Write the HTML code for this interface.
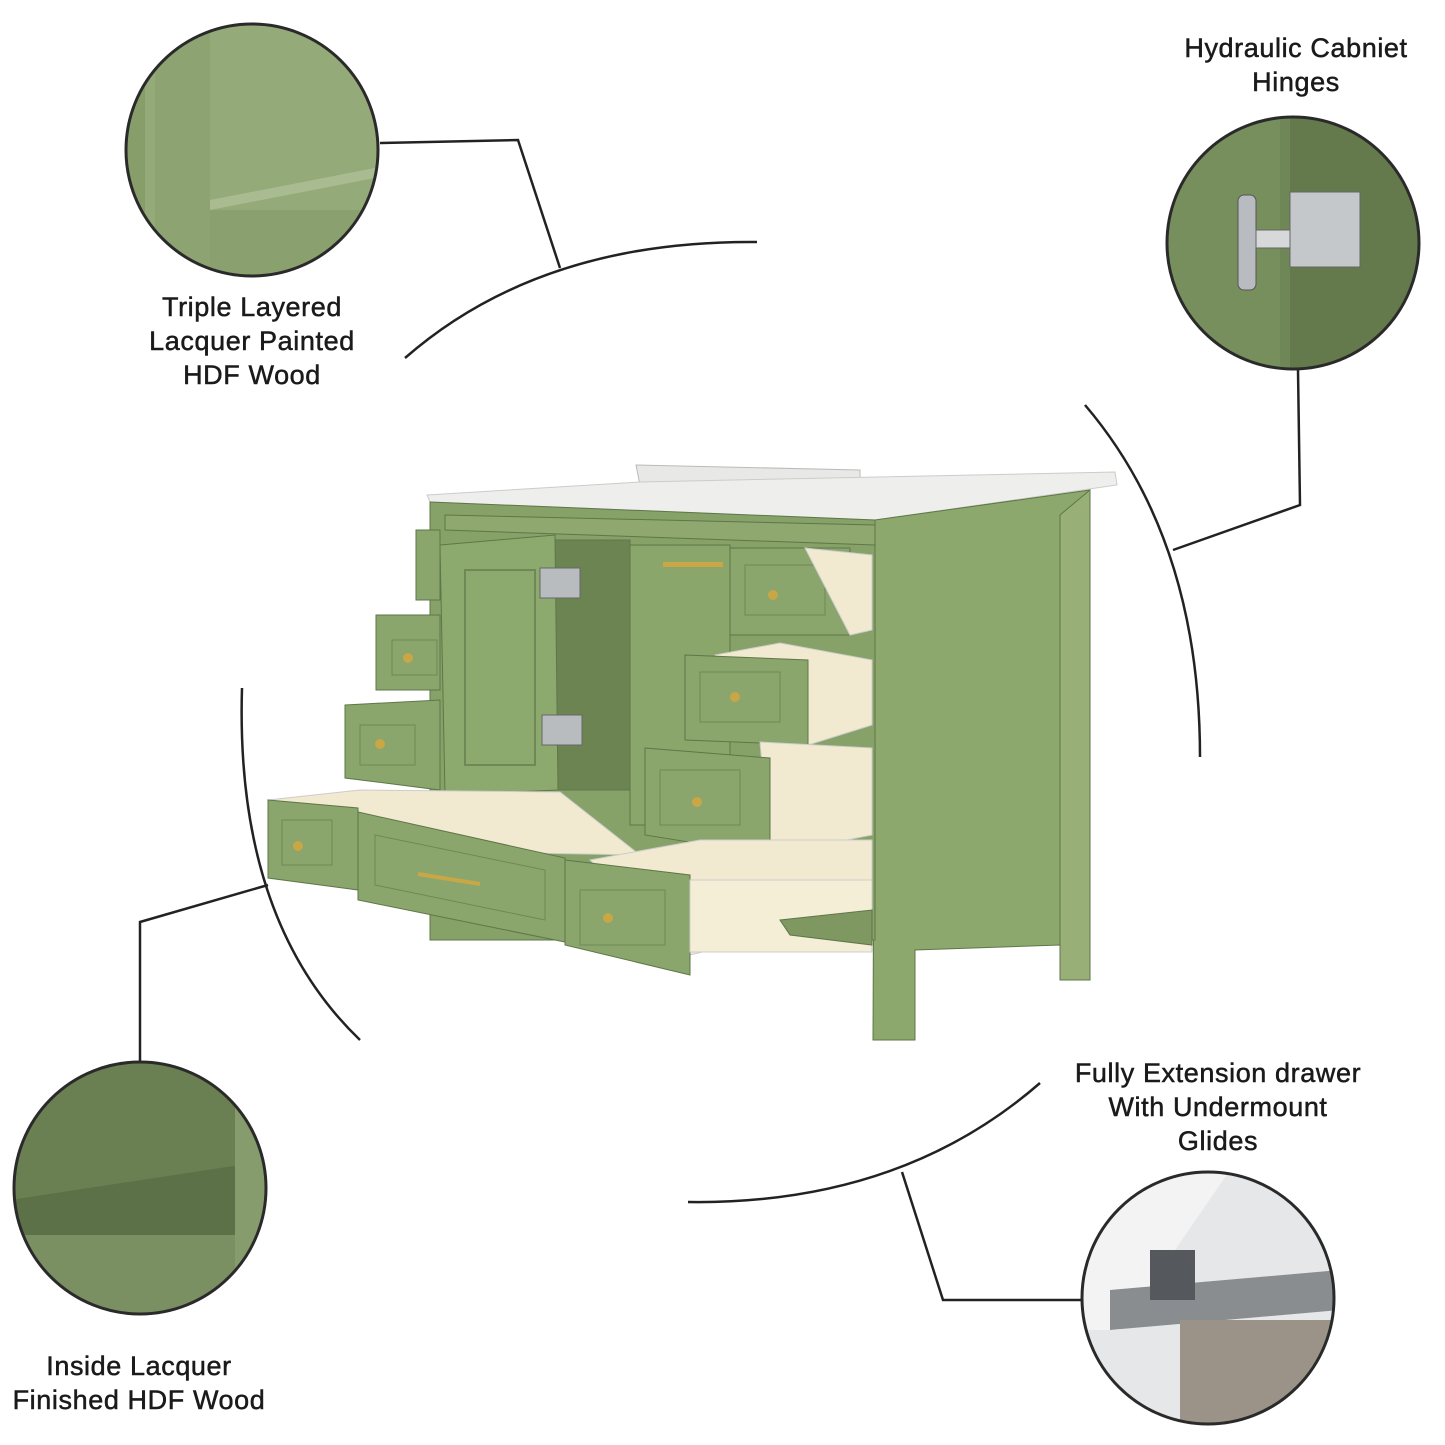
<!DOCTYPE html>
<html><head><meta charset="utf-8"><style>
html,body{margin:0;padding:0;background:#fff;}
svg{display:block}
text{font-family:"Liberation Sans",sans-serif;font-size:27px;fill:#1a1a1a;text-anchor:middle;letter-spacing:0.6px;stroke:#1a1a1a;stroke-width:0.5px}
</style></head><body>
<svg width="1445" height="1445" viewBox="0 0 1445 1445" xmlns="http://www.w3.org/2000/svg">
<defs>
<clipPath id="c1"><circle cx="252" cy="150" r="126"/></clipPath>
<clipPath id="c2"><circle cx="1293" cy="243" r="126"/></clipPath>
<clipPath id="c3"><circle cx="140" cy="1188" r="126"/></clipPath>
<clipPath id="c4"><circle cx="1208" cy="1298" r="126"/></clipPath>
</defs>
<g fill="none" stroke="#222" stroke-width="2.5">
<polyline points="380,143 518,140 560,268"/>
<path d="M405,358 Q540,240 757,242"/>
<polyline points="1298,370 1300,505 1173,550"/>
<path d="M1085,405 Q1200,540 1200,757"/>
<polyline points="140,1062 140,922 268,885"/>
<path d="M242,688 Q235,920 360,1040"/>
<path d="M1040,1083 Q900,1205 688,1202"/>
<polyline points="902,1172 943,1300 1082,1300"/>
</g>
<g clip-path="url(#c1)">
<rect x="120" y="20" width="270" height="270" fill="#94aa78"/>
<rect x="120" y="20" width="25" height="270" fill="#879e6b"/>
<rect x="155" y="20" width="55" height="270" fill="#8ea372"/>
<polygon points="210,200 390,165 390,175 210,210" fill="#a9bb90"/>
<rect x="210" y="210" width="180" height="80" fill="#8aa06e"/>
</g>
<circle cx="252" cy="150" r="126" fill="none" stroke="#2a2a2a" stroke-width="3"/>
<g clip-path="url(#c2)">
<rect x="1160" y="110" width="270" height="270" fill="#6f8656"/>
<rect x="1160" y="110" width="120" height="270" fill="#778f5d"/>
<rect x="1290" y="110" width="140" height="270" fill="#647a4c"/>
<rect x="1238" y="195" width="18" height="95" rx="6" fill="#b8bcc0" stroke="#555"/>
<rect x="1256" y="230" width="40" height="18" fill="#d6d8da" stroke="#666"/>
<rect x="1290" y="192" width="70" height="75" fill="#c5c8cb" stroke="#666"/>
</g>
<circle cx="1293" cy="243" r="126" fill="none" stroke="#2a2a2a" stroke-width="3"/>
<g clip-path="url(#c3)">
<rect x="10" y="1060" width="270" height="270" fill="#6a7f52"/>
<polygon points="10,1200 240,1165 240,1250 10,1250" fill="#5d7148"/>
<rect x="10" y="1235" width="270" height="100" fill="#7a9062"/>
<rect x="235" y="1060" width="40" height="260" fill="#869c6d"/>
</g>
<circle cx="140" cy="1188" r="126" fill="none" stroke="#2a2a2a" stroke-width="3"/>
<g clip-path="url(#c4)">
<rect x="1080" y="1170" width="260" height="260" fill="#e6e7e8"/>
<polygon points="1080,1170 1230,1170 1120,1330 1080,1330" fill="#f3f3f3"/>
<polygon points="1110,1290 1340,1270 1340,1310 1110,1330" fill="#8a8d90"/>
<rect x="1180" y="1320" width="160" height="110" fill="#9c9388"/>
<rect x="1150" y="1250" width="45" height="50" fill="#55585c"/>
</g>
<circle cx="1208" cy="1298" r="126" fill="none" stroke="#2a2a2a" stroke-width="3"/>
<text x="252" y="316">Triple Layered</text>
<text x="252" y="350">Lacquer Painted</text>
<text x="252" y="384">HDF Wood</text>
<text x="1296" y="57">Hydraulic Cabniet</text>
<text x="1296" y="91">Hinges</text>
<text x="1218" y="1082">Fully Extension drawer</text>
<text x="1218" y="1116">With Undermount</text>
<text x="1218" y="1150">Glides</text>
<text x="139" y="1375">Inside Lacquer</text>
<text x="139" y="1409">Finished HDF Wood</text>

<g stroke="#5f7648" stroke-width="1">
<polygon points="636,465 860,470 860,478 640,485" fill="#e8e8e6" stroke="#bbb"/>
<polygon points="427,495 640,482 1115,472 1117,485 875,520 430,502" fill="#eeeeec" stroke="#ccc"/>
<polygon points="875,520 1090,490 1090,980 1060,975 1060,945 915,950 915,1040 873,1040" fill="#8ca86c"/>
<polygon points="1060,515 1090,490 1090,980 1060,980" fill="#98b078"/>
<polygon points="430,502 875,520 875,940 430,940" fill="#87a268"/>
<polygon points="445,515 875,525 875,545 445,530" fill="#8ea870"/>
<rect x="555" y="540" width="75" height="250" fill="#6c8452"/>
<polygon points="440,545 555,535 558,790 445,795" fill="#8caa6d"/>
<rect x="465" y="570" width="70" height="195" fill="none" stroke="#6f8856" stroke-width="2"/>
<rect x="540" y="568" width="40" height="30" fill="#b9bcbf" stroke="#666"/>
<rect x="542" y="715" width="40" height="30" fill="#b9bcbf" stroke="#666"/>
<polygon points="630,545 730,545 730,825 630,825" fill="#8aa66b"/>
<rect x="663" y="562" width="60" height="5" fill="#c9a646" stroke="none"/>
<polygon points="416,530 440,530 440,600 416,600" fill="#8aa66c"/>
<polygon points="376,615 440,615 440,690 376,690" fill="#8aa66c"/>
<rect x="392" y="640" width="45" height="35" fill="none" stroke="#6f8856"/>
<polygon points="345,705 440,700 440,790 345,778" fill="#8aa66c"/>
<rect x="360" y="725" width="55" height="40" fill="none" stroke="#6f8856"/>
<polygon points="730,548 850,548 850,635 730,635" fill="#8aa66c"/>
<rect x="745" y="565" width="80" height="50" fill="none" stroke="#6f8856"/>
<polygon points="805,548 872,555 872,630 850,635" fill="#f2ead0" stroke="#ccc"/>
<polygon points="715,655 780,643 872,660 872,725 808,745" fill="#f2ead0" stroke="#ccc"/>
<polygon points="685,655 808,660 808,745 685,740" fill="#8aa66c"/>
<rect x="700" y="672" width="80" height="50" fill="none" stroke="#6f8856"/>
<polygon points="760,742 872,748 872,835 770,855" fill="#f2ead0" stroke="#ccc"/>
<polygon points="645,748 770,758 770,855 645,835" fill="#8aa66c"/>
<rect x="660" y="770" width="80" height="55" fill="none" stroke="#6f8856"/>
<polygon points="268,800 360,790 560,792 640,855 360,850" fill="#f2ead0" stroke="#ccc"/>
<polygon points="268,800 358,808 358,890 268,878" fill="#8aa66c"/>
<rect x="282" y="820" width="50" height="45" fill="none" stroke="#6f8856"/>
<polygon points="358,812 565,858 565,942 358,900" fill="#8aa66c"/>
<polygon points="375,835 545,870 545,920 375,885" fill="none" stroke="#6f8856"/>
<line x1="418" y1="874" x2="480" y2="884" stroke="#c9a646" stroke-width="4"/>
<polygon points="590,860 700,840 872,840 872,912 690,955" fill="#f2ead0" stroke="#ccc"/>
<polygon points="565,860 690,875 690,975 565,945" fill="#8aa66c"/>
<rect x="580" y="890" width="85" height="55" fill="none" stroke="#6f8856"/>
<rect x="690" y="880" width="182" height="72" fill="#f4eed6" stroke="#ccc"/>
<polygon points="780,920 872,910 872,945 790,935" fill="#7f9862"/>
</g>
<g fill="#c9a646">
<circle cx="773" cy="595" r="5"/><circle cx="735" cy="697" r="5"/><circle cx="697" cy="802" r="5"/>
<circle cx="608" cy="918" r="5"/><circle cx="298" cy="846" r="5"/><circle cx="380" cy="744" r="5"/>
<circle cx="408" cy="658" r="5"/>
</g>
</svg>
</body></html>
